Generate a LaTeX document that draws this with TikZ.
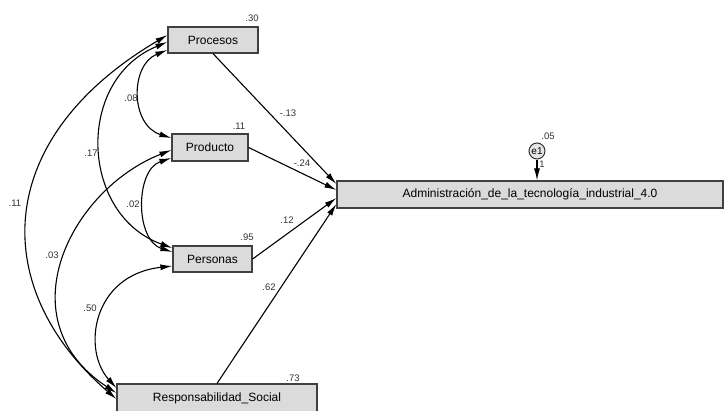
\documentclass[tikz,border=0pt]{standalone}
\usepackage{fontspec}
\setmainfont{Liberation Sans}
\usetikzlibrary{arrows.meta}
\begin{document}
\begin{tikzpicture}[x=1pt,y=-1pt,
  varbox/.style={draw=black!75,line width=1.2pt,fill=black!14,inner sep=0pt,font=\fontsize{12}{14}\selectfont},
  errnode/.style={circle,draw=black!80,line width=1pt,fill=black!10,inner sep=0pt,minimum size=16pt,font=\fontsize{10}{12}\selectfont},
  lbl/.style={font=\fontsize{9.5}{11}\selectfont,text=black!80,inner sep=0pt},
  path/.style={line width=1.1pt,-{Latex[length=12pt,width=6pt]}},
  cov/.style={line width=1.1pt,{Latex[length=12pt,width=6pt]}-{Latex[length=12pt,width=6pt]}}]
\useasboundingbox[fill=white] (0,0) rectangle (726,410);
% boxes
\node[varbox,minimum width=90pt,minimum height=26pt] (proc) at (213,40) {Procesos};
\node[varbox,minimum width=76pt,minimum height=27pt] (prod) at (210,147.5) {Producto};
\node[varbox,minimum width=79pt,minimum height=26pt] (pers) at (212.5,259) {Personas};
\node[varbox,minimum width=200pt,minimum height=28pt] (resp) at (217,398) {Responsabilidad\_Social};
\node[varbox,minimum width=386pt,minimum height=27pt] (adm) at (530,194.5) {Administración\_de\_la\_tecnología\_industrial\_4.0};
\node[errnode] (e1) at (537,151) {e1};
% value labels
\node[lbl] (l30) at (252,18) {.30};
\node[lbl] (l11a) at (239,126) {.11};
\node[lbl] (l95) at (247,237) {.95};
\node[lbl] (l73) at (293,378) {.73};
\node[lbl] (l05) at (548,136) {.05};
\node[lbl] (lone) at (542,164) {1};
% regression paths
\draw[path] (proc.south) -- ([yshift=10.5pt]adm.west);
\draw[path] (prod.east) -- ([yshift=4.5pt]adm.west);
\draw[path] (pers.east) -- ([yshift=-3.5pt]adm.west);
\draw[path] (resp.north) -- ([yshift=-9.5pt]adm.west);
\draw[path] (e1.south) -- (adm.north -| e1);
\node[lbl] (m13) at (288,113) {-.13};
\node[lbl] (m24) at (302,163) {-.24};
\node[lbl] (p12) at (287,220) {.12};
\node[lbl] (p62) at (269,287) {.62};
% covariances
\draw[cov] ([yshift=-10pt]proc.west) .. controls (130,65) and (130,125) .. ([yshift=9.5pt]prod.west);
\draw[cov] ([yshift=-2pt]proc.west) .. controls (75,80) and (80,215) .. ([yshift=11pt]pers.west);
\draw[cov] ([yshift=5pt]proc.west) .. controls (-10,140) and (-10,290) .. ([yshift=-1pt]resp.west);
\draw[cov] ([yshift=-10.5pt]prod.west) .. controls (135,170) and (135,240) .. ([yshift=7pt]pers.west);
\draw[cov] ([yshift=-2.5pt]prod.west) .. controls (70,190) and (5,320) .. ([yshift=5pt]resp.west);
\draw[cov] ([yshift=-7pt]pers.west) .. controls (92,275) and (82,350) .. ([yshift=10pt]resp.west);
\node[lbl] (c08) at (131,98) {.08};
\node[lbl] (c17) at (91,153) {.17};
\node[lbl] (c11) at (15,203) {.11};
\node[lbl] (c02) at (133,204) {.02};
\node[lbl] (c03) at (52,255) {.03};
\node[lbl] (c50) at (90,308) {.50};
\end{tikzpicture}
\end{document}
